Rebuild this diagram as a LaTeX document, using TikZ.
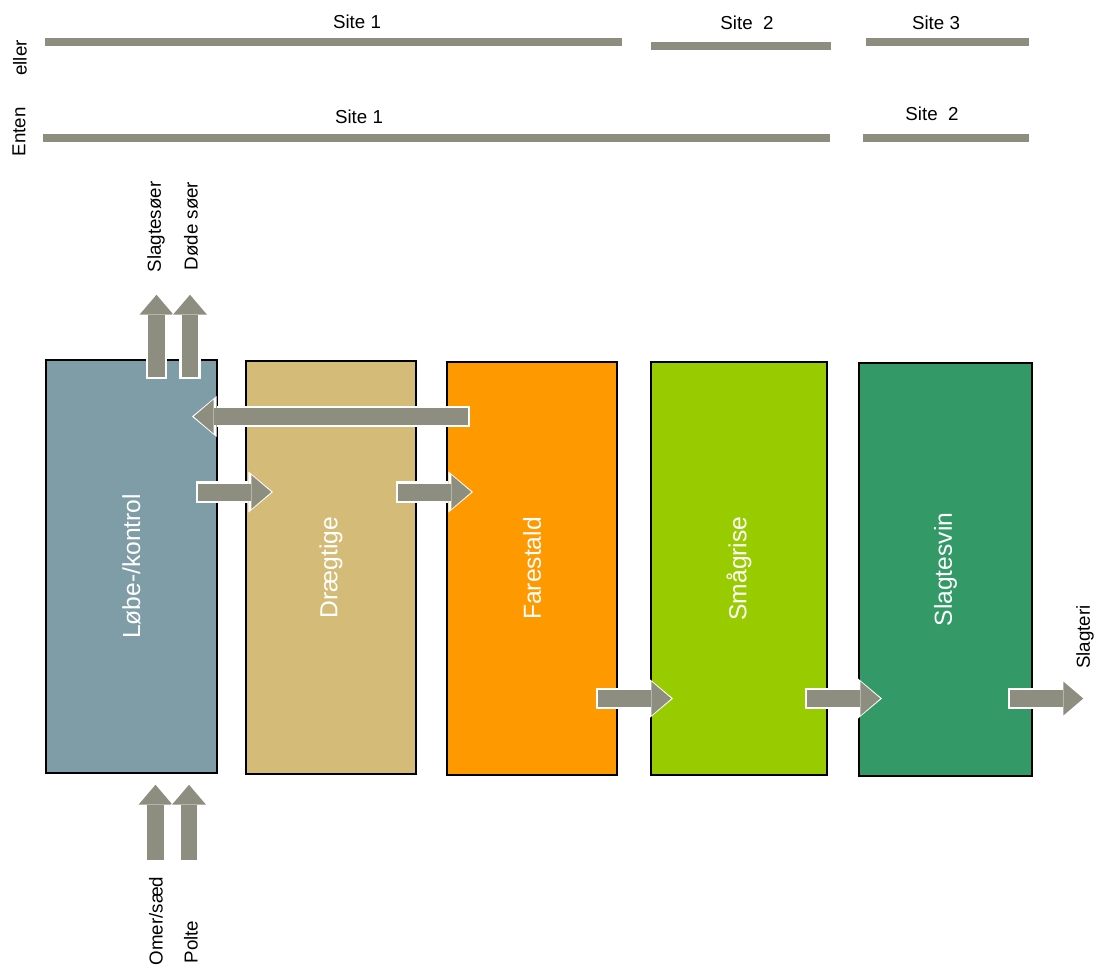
\documentclass[tikz,border=0pt]{standalone}
\usepackage{fontspec}
\setmainfont{Liberation Sans}
\usetikzlibrary{arrows.meta}
\definecolor{bargrey}{RGB}{142,142,128}
\definecolor{lobecol}{RGB}{127,157,166}
\definecolor{draegtcol}{RGB}{212,188,120}
\definecolor{farecol}{RGB}{255,153,0}
\definecolor{smaacol}{RGB}{153,204,0}
\definecolor{slagtcol}{RGB}{51,153,102}
\begin{document}
\begin{tikzpicture}%
[x=0.03cm, y=-0.03cm,
stage/.style={draw=black, line width=1.5pt, inner sep=0pt, minimum height=12.39cm},%
stagetext/.style={rotate=90, text=white, font=\fontsize{21}{24}\selectfont},%
sitebar/.style={draw=bargrey, line width=7.6pt},%
small/.style={font=\fontsize{16}{19}\selectfont},%
flow/.style={draw=bargrey, line width=14.5pt, shorten >=1.5pt,
  -{Triangle[width=29pt,length=17pt,line width=0pt]},
  preaction={draw=white, line width=18pt, shorten >=0pt, shorten <=-1.7pt,
  -{Triangle[width=35pt,length=21pt,line width=0pt]}}}]

\useasboundingbox (0,0) rectangle (1097,970);

% site bars
\node[small, rotate=90] (eller) at (20,58) {eller};
\node[small, rotate=90] (enten) at (19,132) {Enten};
\draw[sitebar] (45,42) -- (622,42);
\draw[sitebar] (651,46) -- (831,46);
\draw[sitebar] (866,42) -- (1029,42);
\node[small] (site1a) at (357,22) {Site 1};
\node[small] (site2a) at (747,23) {Site\ \ 2};
\node[small] (site3a) at (936,23) {Site 3};
\draw[sitebar] (43,138) -- (830,138);
\draw[sitebar] (863,138) -- (1029,138);
\node[small] (site1b) at (359,117) {Site 1};
\node[small] (site2b) at (932,114) {Site\ \ 2};

% stages
\node[stage, fill=lobecol, minimum width=5.13cm] (lobe) at (131.5,566.5) {};
\node[stage, fill=draegtcol, minimum width=5.10cm] (draegt) at (331,567.5) {};
\node[stage, fill=farecol, minimum width=5.10cm] (fare) at (532,568.5) {};
\node[stage, fill=smaacol, minimum width=5.28cm] (smaa) at (739,568.5) {};
\node[stage, fill=slagtcol, minimum width=5.19cm] (slagt) at (945.5,569.5) {};
\node[stagetext] (lobetxt) at (lobe) {Løbe-/kontrol};
\node[stagetext] (draegttxt) at (draegt) {Drægtige};
\node[stagetext] (faretxt) at (fare) {Farestald};
\node[stagetext] (smaatxt) at (smaa) {Smågrise};
\node[stagetext] (slagttxt) at (slagt) {Slagtesvin};

% in and out
\coordinate (soer-a) at (156.5,377);
\coordinate (soer-b) at (156.5,293);
\coordinate (doed-a) at (190,377);
\coordinate (doed-b) at (190,293);
\coordinate (orne-a) at (155.5,860);
\coordinate (orne-b) at (155.5,783);
\coordinate (polte-a) at (189,860);
\coordinate (polte-b) at (189,783);
\coordinate (back-a) at (468,416.5);
\coordinate (back-b) at (192,416.5);
\coordinate (r1-a) at (198,492);
\coordinate (r1-b) at (273,492);
\coordinate (r2-a) at (398,492);
\coordinate (r2-b) at (473,492);
\coordinate (r3-a) at (598,698.5);
\coordinate (r3-b) at (673,698.5);
\coordinate (r4-a) at (807,698.5);
\coordinate (r4-b) at (882,698.5);
\coordinate (r5-a) at (1010,698.5);
\coordinate (r5-b) at (1085,698.5);

\draw[flow] (soer-a) -- (soer-b);
\draw[flow] (doed-a) -- (doed-b);
\draw[flow] (orne-a) -- (orne-b);
\draw[flow] (polte-a) -- (polte-b);
\draw[flow] (back-a) -- (back-b);
\draw[flow] (r1-a) -- (r1-b);
\draw[flow] (r2-a) -- (r2-b);
\draw[flow] (r3-a) -- (r3-b);
\draw[flow] (r4-a) -- (r4-b);
\draw[flow] (r5-a) -- (r5-b);

\node[small, rotate=90] (soertxt) at (156,227) {Slagtesøer};
\node[small, rotate=90] (doedtxt) at (191,226) {Døde søer};
\node[small, rotate=90] (ornetxt) at (156,921) {Omer/sæd};
\node[small, rotate=90] (poltetxt) at (191,942) {Polte};
\node[small, rotate=90] (slagteri) at (1085,637) {Slagteri};
\end{tikzpicture}
\end{document}
